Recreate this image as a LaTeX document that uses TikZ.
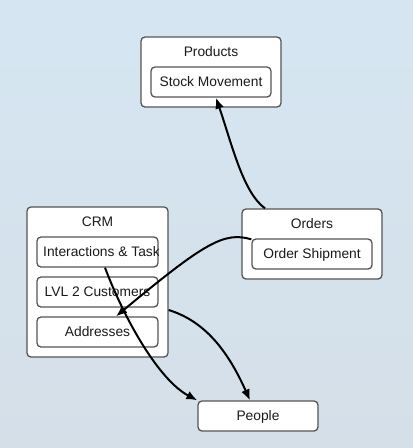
\documentclass[tikz,border=0pt]{standalone}
\usepackage{fontspec}
\setmainfont{Liberation Sans}
\usetikzlibrary{arrows.meta,calc}
\definecolor{bgtop}{HTML}{D5E6F2}
\definecolor{bgbot}{HTML}{D5DFE8}
\definecolor{boxline}{HTML}{555555}
\definecolor{txt}{HTML}{1A1A1A}
\newcommand\lbl{\fontsize{13.8}{16}\selectfont}
\tikzset{
 container/.style={draw=boxline, line width=1.3pt, fill=white, rounded corners=4pt, inner sep=0pt},
 entity/.style={draw=boxline, line width=1.3pt, fill=white, rounded corners=4pt, inner sep=0pt, minimum width=120pt, minimum height=30pt, font=\lbl, text=txt, text height=9.9pt, text depth=0pt},
 title/.style={font=\lbl, text=txt, inner sep=0pt, text height=9.9pt, text depth=0pt},
 link/.style={line width=2pt, draw=black, -{Latex[length=11pt,width=9pt]}},
}
\begin{document}
\begin{tikzpicture}[x=1pt,y=-1pt]
\shade[top color=bgtop, bottom color=bgbot] (0,0) rectangle (413,448);
\useasboundingbox (0,0) rectangle (413,448);
% Products
\node[container, minimum width=140pt, minimum height=70pt] (products) at (211,72) {};
\node[title] (productsT) at (211,52) {Products};
\node[entity] (stock) at (211,82) {Stock Movement};
% Orders
\node[container, minimum width=140pt, minimum height=70pt] (orders) at (312,244) {};
\node[title] (ordersT) at (312,224) {Orders};
\node[entity] (ship) at (312,254) {Order Shipment};
% CRM
\node[container, minimum width=141pt, minimum height=150pt] (crm) at (97.5,282) {};
\node[title] (crmT) at (97.5,222) {CRM};
\node[entity, minimum width=121pt] (inter) at (97.5,252) {};
\begin{scope}
\clip[rounded corners=4pt] ($(inter.south west)+(0.6,-0.6)$) rectangle ($(inter.north east)+(-0.6,0.6)$);
\node[title, anchor=west] (interT) at (43,252) {Interactions \& Task};
\end{scope}
\node[entity, minimum width=121pt] (lvl) at (97.5,292) {LVL 2 Customers};
\node[entity, minimum width=121pt] (addr) at (97.5,332) {Addresses};
% People
\node[entity] (people) at (258,416) {People};
% connectors
\draw[link] ($(orders.north)+(-47,0)$) .. controls +(-22,-16) and +(16,47) .. ($(stock.south)+(5,0)$);
\draw[link] ($(ship.north west)+(0,1)$) .. controls +(-27,-8) and +(89,-74) .. ($(addr.north)+(18.5,0)$);
\draw[link] ($(inter.south)+(7.5,0)$) .. controls +(20,53) and +(-38,-20) .. (people.north west);
\draw[link] ($(crm.east)+(0,28)$) .. controls +(32,10) and +(-25,-56) .. ($(people.north)+(-8,0)$);
\end{tikzpicture}
\end{document}
